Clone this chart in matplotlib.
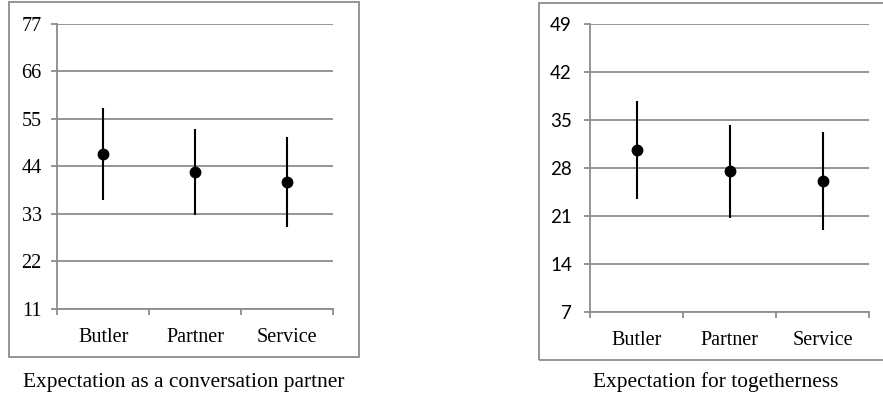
import matplotlib
matplotlib.use("Agg")
import matplotlib.pyplot as plt
from matplotlib.patches import Rectangle
from matplotlib.ticker import FixedLocator

# data
groups = ["Butler", "Partner", "Service"]
conv_mean = [46.8, 42.7, 40.4]
conv_err = [10.7, 10.0, 10.5]
conv_ticks = [11, 22, 33, 44, 55, 66, 77]
tog_mean = [30.6, 27.5, 26.1]
tog_err = [7.1, 6.8, 7.2]
tog_ticks = [7, 14, 21, 28, 35, 42, 49]
captions = ["Expectation as a conversation partner", "Expectation for togetherness"]

W, H = 883, 398
fig = plt.figure(figsize=(W / 100, H / 100), dpi=100)

grey = "#8c8c8c"
serif = "Liberation Serif"


def px_axes(x0, x1, ytop, ybot):
    return fig.add_axes([x0 / W, 1 - ybot / H, (x1 - x0) / W, (ybot - ytop) / H])


def panel(ax, means, errs, ticks, ytick_font, ysize, ypad):
    xs = list(range(1, len(groups) + 1))
    ax.errorbar(xs, means, yerr=errs, fmt="o", color="black", ms=7.5,
                elinewidth=1.5, capsize=0, zorder=3)
    ax.set_xlim(0.5, len(groups) + 0.5)
    ax.set_ylim(ticks[0], ticks[-1])
    ax.set_yticks(ticks)
    ax.set_yticklabels([str(t) for t in ticks], family=ytick_font, fontsize=ysize)
    ax.set_xticks(xs)
    ax.set_xticklabels(groups, family=serif, fontsize=14.5)
    ax.xaxis.set_minor_locator(FixedLocator([0.5, 1.5, 2.5, 3.5]))
    ax.tick_params(axis="x", which="major", length=0, pad=14)
    ax.tick_params(axis="x", which="minor", length=4.5, color=grey, width=1.3, direction="out")
    ax.tick_params(axis="y", length=4, color=grey, width=1.3, pad=ypad)
    ax.grid(axis="y", color=grey, lw=1.3)
    ax.set_axisbelow(True)
    for s in ["top", "right"]:
        ax.spines[s].set_visible(False)
    for s in ["left", "bottom"]:
        ax.spines[s].set_color(grey)
        ax.spines[s].set_linewidth(1.3)


ax1 = px_axes(57.3, 333.3, 24, 308.7)
panel(ax1, conv_mean, conv_err, conv_ticks, serif, 14.5, 7.2)
ax2 = px_axes(590, 869, 24, 311.7)
panel(ax2, tog_mean, tog_err, tog_ticks, "Lato", 13.5, 9)

# frames round each chart
fig.patches.append(Rectangle((8.5 / W, 1 - 356.5 / H), (359 - 8.5) / W, (356.5 - 1.5) / H,
                             transform=fig.transFigure, fill=False, ec=grey, lw=1.3))
fig.patches.append(Rectangle((538.5 / W, 1 - 360 / H), (895 - 538.5) / W, (360 - 2.5) / H,
                             transform=fig.transFigure, fill=False, ec=grey, lw=1.3))

fig.text(183.5 / W, 1 - 382 / H, captions[0], ha="center", va="center", family=serif, fontsize=15.4)
fig.text(716 / W, 1 - 382 / H, captions[1], ha="center", va="center", family=serif, fontsize=15.4)

fig.savefig("out.png", dpi=100)
